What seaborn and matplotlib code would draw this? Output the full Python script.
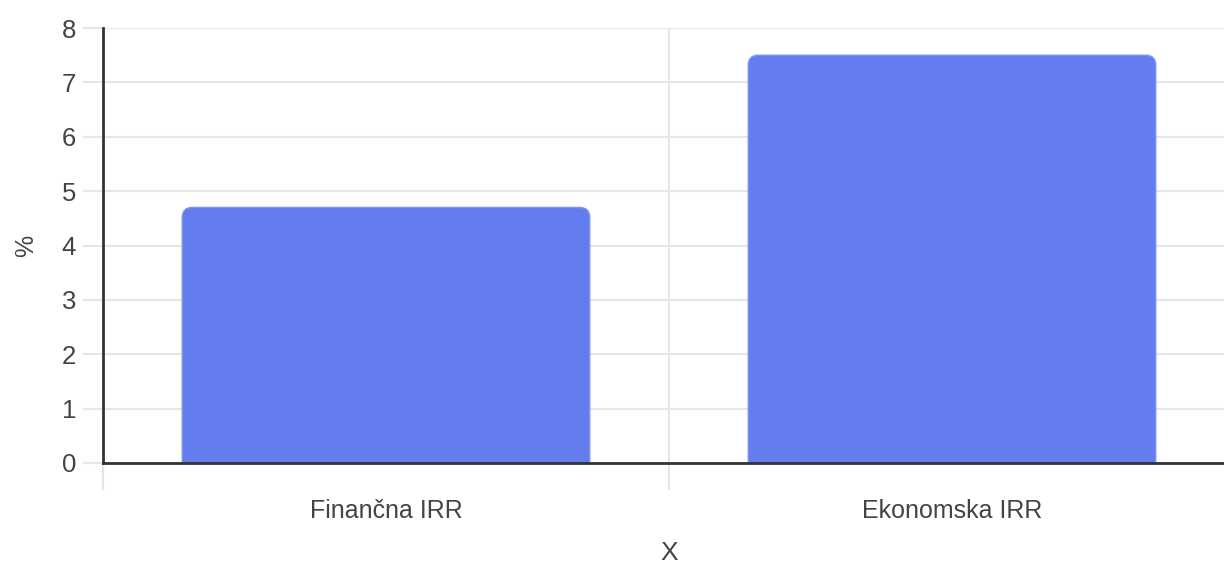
import matplotlib
matplotlib.use("Agg")
import matplotlib.pyplot as plt
from matplotlib.patches import FancyBboxPatch
import seaborn as sns
import pandas as pd

categories = ["Finančna IRR", "Ekonomska IRR"]
values = [4.7, 7.5]
y_ticks = [0, 1, 2, 3, 4, 5, 6, 7, 8]

sns.set_style("white")
plt.rcParams["font.family"] = ["Liberation Sans", "DejaVu Sans"]

df = pd.DataFrame({"cat": categories, "val": values})

BAR = "#647DEE"
TEXT = "#444444"
GRID = "#E6E6E6"

fig = plt.figure(figsize=(12.24, 5.70), dpi=100)
W, H = 1224, 570
ax = fig.add_axes([103 / W, (570 - 463) / H, 1132 / W, (463 - 28) / H])

sns.barplot(data=df, x="cat", y="val", color=BAR, width=0.72,
            saturation=1, ax=ax, zorder=3)

# Swap the plain rectangles for bars with rounded top corners;
# the lower corners are pushed below zero so the axis clips them square.
px_per_x = 1132.0 / 2
px_per_y = 435.0 / 8
radius_px = 10
for p in list(ax.patches):
    x0, w, h = p.get_x(), p.get_width(), p.get_height()
    ext = 0.4
    rb = FancyBboxPatch((x0, -ext), w, h + ext,
                        boxstyle=f"round,pad=0,rounding_size={radius_px / px_per_x}",
                        mutation_aspect=px_per_x / px_per_y,
                        facecolor=BAR, edgecolor="#8194F2", linewidth=1,
                        zorder=3)
    p.remove()
    ax.add_patch(rb)

ax.set_xlim(-0.5, 1.5)
ax.set_ylim(0, 8)
ax.set_yticks(y_ticks)
ax.set_yticklabels([str(t) for t in y_ticks])
ax.set_xticks([-0.5, 0.5, 1.5])
ax.set_xticklabels(["", "", ""])
ax.set_xticks([0, 1], minor=True)
ax.set_xticklabels(categories, minor=True)

ax.grid(True, axis="y", color=GRID, linewidth=1.5, zorder=0)
ax.grid(True, axis="x", which="major", color=GRID, linewidth=1.5, zorder=0)
ax.tick_params(axis="y", which="major", left=True, length=14.4, width=1.5,
               color=GRID, labelsize=18.5, labelcolor=TEXT, pad=5)
ax.tick_params(axis="x", which="major", bottom=True, length=19.4, width=1.5,
               color=GRID)
ax.tick_params(axis="x", which="minor", bottom=True, length=0, labelsize=18,
               labelcolor=TEXT, pad=26)

for s in ["top", "right"]:
    ax.spines[s].set_visible(False)
for s in ["left", "bottom"]:
    ax.spines[s].set_color("#333333")
    ax.spines[s].set_linewidth(2)
    ax.spines[s].set_zorder(4)

ax.set_xlabel("X", fontsize=19, color=TEXT, labelpad=13)
ax.set_ylabel("%", fontsize=18, color=TEXT, labelpad=17)

fig.savefig("out.png", dpi=100)
